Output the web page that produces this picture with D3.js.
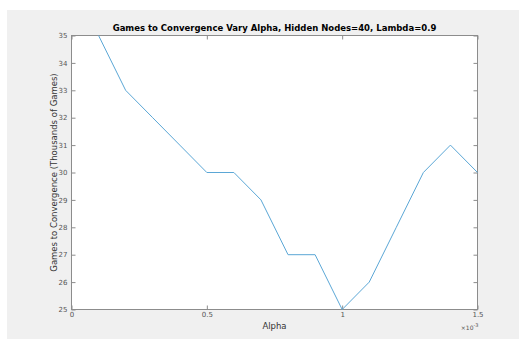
<!DOCTYPE html>
<html>
<head>
<meta charset="utf-8">
<script src="https://cdn.jsdelivr.net/npm/d3@7"></script>
<style>
  html, body { margin: 0; padding: 0; background: #ffffff; }
  svg { display: block; }
  text { font-family: "DejaVu Sans", sans-serif; }
</style>
</head>
<body>
<svg id="chart" width="519" height="339"></svg>
<script>
// Learning rate (in units of 1e-3) and games needed to converge (thousands)
const alphaValues = [0.1, 0.2, 0.3, 0.4, 0.5, 0.6, 0.7, 0.8, 0.9, 1.0, 1.1, 1.2, 1.3, 1.4, 1.5];
const gamesValues = [35, 33, 32, 31, 30, 30, 29, 27, 27, 25, 26, 28, 30, 31, 30];
const xTicks = [0, 0.5, 1, 1.5];
const xTickLabels = ["0", "0.5", "1", "1.5"];
const yTicks = [25, 26, 27, 28, 29, 30, 31, 32, 33, 34, 35];

const titleText = "Games to Convergence Vary Alpha, Hidden Nodes=40, Lambda=0.9";
const xLabelText = "Alpha";
const yLabelText = "Games to Convergence (Thousands of Games)";

const svg = d3.select("#chart");
const W = 519, H = 339;
const box = { left: 71.5, right: 477.5, top: 35.5, bottom: 309.5 };

// figure background
svg.append("rect").attr("x", 7).attr("y", 10).attr("width", W - 7).attr("height", H - 10)
  .attr("fill", "#f0f0f0");
svg.append("rect").attr("x", box.left).attr("y", box.top)
  .attr("width", box.right - box.left).attr("height", box.bottom - box.top)
  .attr("fill", "#ffffff");

const x = d3.scaleLinear().domain([0, 1.5]).range([box.left, box.right]);
const y = d3.scaleLinear().domain([25, 35]).range([box.bottom, box.top]);

const axisColor = "#8c8c8c";
const labelColor = "#555555";

function styleAxis(g, showText) {
  g.select(".domain").remove();
  g.selectAll(".tick line").attr("stroke", axisColor);
  g.selectAll(".tick text").attr("fill", labelColor).style("font-size", "7px");
  if (!showText) g.selectAll(".tick text").remove();
}

// bottom axis (ticks point inward)
svg.append("g").attr("transform", `translate(0,${box.bottom})`)
  .call(d3.axisBottom(x).tickValues(xTicks).tickFormat((d, i) => xTickLabels[i])
    .tickSizeInner(-4).tickSizeOuter(0).tickPadding(3))
  .call(styleAxis, true);
// top axis
svg.append("g").attr("transform", `translate(0,${box.top})`)
  .call(d3.axisTop(x).tickValues(xTicks).tickSizeInner(-4).tickSizeOuter(0))
  .call(styleAxis, false);
// left axis
svg.append("g").attr("transform", `translate(${box.left},0)`)
  .call(d3.axisLeft(y).tickValues(yTicks).tickFormat(d3.format("d"))
    .tickSizeInner(-4).tickSizeOuter(0).tickPadding(4))
  .call(styleAxis, true);
// right axis
svg.append("g").attr("transform", `translate(${box.right},0)`)
  .call(d3.axisRight(y).tickValues(yTicks).tickSizeInner(-4).tickSizeOuter(0))
  .call(styleAxis, false);

// axes box
svg.append("rect").attr("x", box.left).attr("y", box.top)
  .attr("width", box.right - box.left).attr("height", box.bottom - box.top)
  .attr("fill", "none").attr("stroke", axisColor).attr("stroke-width", 1);

// data line
const line = d3.line().x((d, i) => x(alphaValues[i])).y(d => y(d));
svg.append("path").datum(gamesValues)
  .attr("d", line)
  .attr("fill", "none")
  .attr("stroke", "#5ba7d6")
  .attr("stroke-width", 1);

// exponent marker
const expo = svg.append("text").attr("x", box.right + 1).attr("y", 330)
  .attr("text-anchor", "end").attr("fill", labelColor).style("font-size", "6px");
expo.append("tspan").text("\u00d710");
expo.append("tspan").attr("dy", -3).style("font-size", "5px").text("-3");

// title
svg.append("text").attr("x", (box.left + box.right) / 2).attr("y", 31)
  .attr("text-anchor", "middle").attr("fill", "#000")
  .style("font-size", "8.5px").style("font-weight", "bold").text(titleText);

// axis labels
svg.append("text").attr("x", (box.left + box.right) / 2).attr("y", 329)
  .attr("text-anchor", "middle").attr("fill", "#333333")
  .style("font-size", "8.5px").text(xLabelText);
svg.append("text")
  .attr("transform", `translate(57,${(box.top + box.bottom) / 2}) rotate(-90)`)
  .attr("text-anchor", "middle").attr("fill", "#333333")
  .style("font-size", "8.5px").text(yLabelText);
</script>
</body>
</html>
